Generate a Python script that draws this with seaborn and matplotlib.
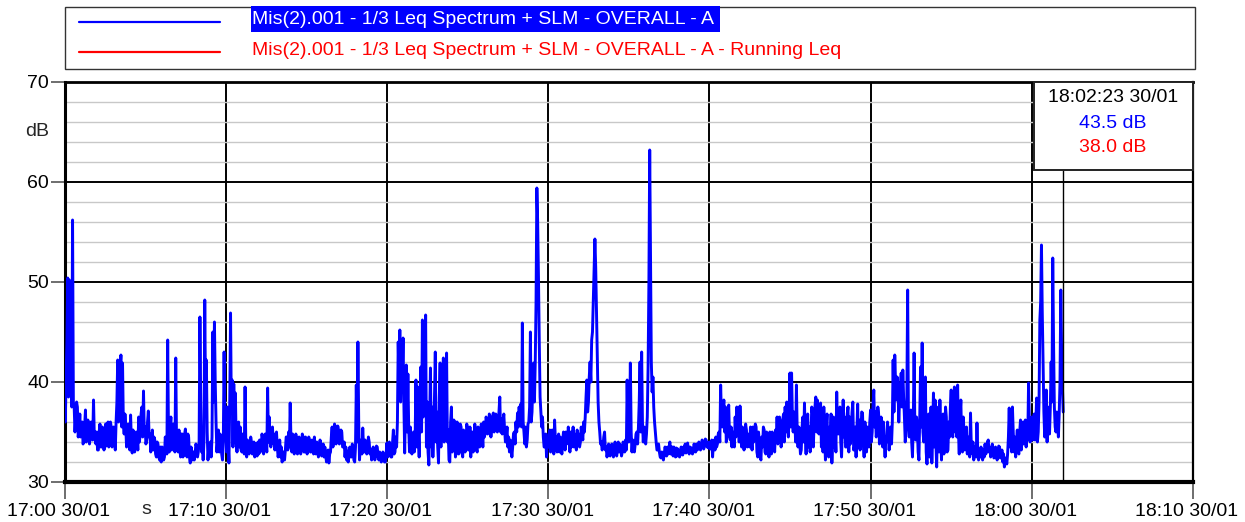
import numpy as np
import pandas as pd
import matplotlib
matplotlib.use("Agg")
import matplotlib.pyplot as plt
from matplotlib.patches import Rectangle
from matplotlib.lines import Line2D
from matplotlib.transforms import ScaledTranslation
import seaborn as sns

# ---------------- data ----------------
# Readings every 3 s from 17:00; listed as two interleaved columns:
# level_a at whole tenths of a minute, level_b half-way between them.
sample_step_min = 0.05
level_a = [
    37.5, 40.5, 50.4, 50.2, 40.0, 56.2, 37.5, 36.5, 37.5, 35.2,   # 17:00
    34.5, 36.0, 34.0, 37.2, 34.2, 35.5, 34.5, 35.8, 38.2, 35.0,
    35.0, 33.2, 35.8, 33.5, 35.0, 34.0, 33.6, 36.0, 34.3, 35.5,
    33.8, 34.5, 36.0, 42.2, 39.5, 42.7, 41.9, 34.8, 35.5, 34.0,
    34.8, 36.7, 32.9, 34.5, 33.5, 34.5, 36.5, 35.0, 37.5, 39.1,
    35.5, 34.2, 37.1, 34.8, 34.0, 33.2, 34.2, 32.5, 33.8, 32.2,
    32.0, 33.0, 32.5, 34.0, 44.2, 33.0, 36.5, 34.0, 33.5, 42.4,
    35.0, 35.2, 32.5, 34.8, 33.0, 35.3, 32.5, 34.5, 31.9, 33.0,
    33.0, 32.8, 33.5, 33.0, 46.5, 33.0, 32.2, 48.2, 42.2, 32.2,
    33.0, 32.5, 45.0, 46.0, 36.0, 34.0, 33.0, 34.5, 32.2, 43.0,
    36.0, 37.5, 31.9, 46.9, 40.2, 39.8, 38.9, 33.0, 36.0, 35.5,   # 17:10
    33.0, 34.0, 39.5, 32.5, 33.5, 33.3, 34.0, 33.5, 32.5, 33.5,
    34.0, 34.2, 33.5, 34.3, 33.5, 34.0, 39.4, 36.5, 33.5, 35.5,
    34.8, 34.0, 33.5, 33.0, 32.5, 32.0, 33.0, 33.2, 34.5, 35.0,
    37.9, 33.0, 34.0, 33.5, 34.2, 33.0, 34.0, 33.5, 34.5, 33.0,
    34.0, 33.5, 34.2, 33.0, 33.8, 34.5, 32.8, 33.5, 33.2, 33.8,
    33.0, 32.5, 32.7, 32.2, 31.9, 33.0, 35.5, 34.2, 35.5, 34.8,
    35.2, 34.0, 35.0, 33.5, 32.5, 32.2, 32.0, 33.5, 32.5, 33.5,
    32.0, 39.7, 44.0, 32.2, 34.2, 35.4, 33.0, 33.5, 33.2, 34.0,
    33.3, 32.5, 33.0, 32.8, 33.5, 32.2, 32.5, 32.2, 32.5, 32.0,
    33.9, 32.8, 33.5, 32.5, 35.2, 33.0, 33.5, 44.0, 45.2, 41.5,   # 17:20
    44.4, 32.9, 41.7, 40.8, 33.0, 34.0, 33.8, 33.0, 40.2, 39.5,
    32.5, 41.5, 46.2, 42.0, 46.7, 38.0, 31.7, 41.4, 37.5, 35.0,
    43.0, 37.0, 31.9, 41.9, 40.8, 42.4, 38.8, 42.9, 35.2, 32.0,
    37.5, 33.8, 36.0, 33.0, 35.8, 33.2, 35.5, 32.5, 34.8, 33.5,
    35.4, 33.2, 32.5, 35.0, 33.5, 34.8, 33.0, 35.4, 33.8, 35.0,
    36.0, 35.0, 36.2, 35.3, 36.5, 35.6, 36.9, 35.4, 36.2, 36.0,
    38.5, 36.3, 36.0, 35.2, 34.5, 33.5, 33.0, 33.5, 33.5, 35.0,
    36.0, 36.9, 37.5, 37.8, 45.9, 35.0, 35.5, 34.2, 36.0, 45.0,
    37.0, 41.9, 42.0, 59.4, 50.5, 38.5, 35.5, 34.5, 33.5, 32.5,
    33.5, 35.2, 33.5, 34.0, 36.2, 34.5, 33.5, 33.0, 33.8, 34.0,   # 17:30
    34.5, 35.0, 34.0, 34.2, 35.0, 34.5, 33.5, 34.0, 35.2, 34.8,
    34.0, 35.0, 36.0, 36.5, 40.2, 38.0, 42.0, 44.2, 48.0, 54.3,
    47.0, 38.0, 35.0, 34.0, 33.5, 35.0, 33.5, 33.0, 33.5, 33.0,
    33.5, 33.2, 33.5, 33.2, 33.0, 33.5, 33.0, 33.8, 34.2, 40.2,
    34.0, 41.9, 33.0, 34.0, 33.8, 35.0, 35.5, 42.0, 43.0, 34.0,
    34.8, 34.8, 41.5, 63.2, 42.0, 40.5, 36.0, 34.0, 33.2, 33.0,
    32.4, 32.8, 32.8, 33.2, 33.5, 33.3, 32.8, 33.5, 33.5, 32.5,
    32.6, 33.0, 32.8, 33.2, 33.5, 33.8, 33.3, 33.2, 33.5, 33.4,
    33.0, 33.5, 33.8, 33.3, 33.8, 33.6, 34.0, 33.8, 34.2, 33.9,
    34.0, 33.6, 32.5, 34.2, 34.5, 33.8, 35.0, 39.7, 35.5, 38.2,   # 17:40
    37.5, 35.0, 37.7, 34.2, 33.5, 34.8, 36.5, 37.5, 36.8, 37.6,
    33.5, 35.0, 34.2, 35.2, 34.8, 33.5, 34.5, 35.5, 34.8, 35.5,
    32.5, 34.0, 32.2, 33.5, 35.2, 32.8, 34.5, 32.5, 34.8, 35.0,
    34.5, 35.2, 36.5, 34.8, 35.8, 34.2, 36.8, 37.5, 38.0, 34.5,
    40.9, 40.9, 35.0, 36.2, 39.7, 33.5, 34.2, 33.2, 36.5, 37.9,
    32.8, 36.8, 35.5, 34.2, 36.8, 36.0, 38.5, 38.2, 34.8, 37.9,
    36.2, 37.5, 32.2, 36.8, 32.5, 34.2, 31.9, 36.5, 35.2, 39.0,
    34.8, 37.5, 32.5, 38.2, 36.5, 33.5, 37.5, 36.5, 35.2, 38.0,
    33.5, 32.5, 37.8, 36.2, 34.8, 36.9, 32.5, 34.8, 35.5, 33.5,
    37.2, 35.0, 39.2, 37.0, 35.2, 36.8, 34.5, 35.5, 36.0, 32.5,   # 17:50
    34.0, 35.0, 34.5, 33.8, 42.2, 42.7, 38.2, 39.5, 38.2, 40.9,
    41.2, 36.5, 35.2, 49.2, 34.5, 37.2, 32.5, 42.9, 34.2, 35.5,
    32.2, 41.5, 43.9, 34.0, 40.5, 31.8, 36.8, 34.8, 31.9, 38.9,
    38.2, 31.5, 37.5, 38.2, 32.2, 36.8, 34.2, 36.5, 33.2, 34.5,
    39.2, 34.5, 39.5, 39.2, 39.7, 32.8, 38.2, 33.0, 34.8, 33.5,
    32.8, 33.5, 36.9, 32.8, 32.2, 33.5, 35.9, 32.2, 32.5, 32.8,
    33.2, 33.8, 33.2, 34.2, 33.5, 32.8, 33.2, 32.5, 33.0, 32.8,
    33.5, 32.6, 32.0, 31.5, 32.2, 32.8, 37.4, 34.8, 37.5, 33.0,
    32.5, 35.2, 32.8, 36.2, 34.5, 33.8, 36.2, 35.0, 39.9, 34.0,
    36.5, 35.0, 34.2, 38.4, 35.0, 46.2, 53.7, 42.0, 34.5, 39.2,   # 18:00
    37.5, 34.8, 42.0, 52.4, 37.5, 35.0, 35.8, 36.8, 49.2, 39.5,
]
level_b = [
    36.0, 44.0, 38.5, 46.0, 37.5, 38.0, 35.0, 38.0, 34.5, 36.8,   # 17:00
    35.8, 33.8, 35.5, 34.0, 36.2, 33.8, 36.0, 34.2, 34.5, 33.8,
    33.2, 35.0, 33.5, 35.5, 33.2, 35.8, 35.2, 33.5, 36.0, 33.5,
    35.5, 33.2, 38.0, 36.0, 41.0, 35.5, 36.0, 36.8, 33.5, 35.8,
    33.2, 34.0, 35.2, 33.0, 35.0, 33.2, 34.0, 36.8, 34.5, 35.0,
    33.8, 36.0, 34.5, 33.0, 35.2, 34.5, 32.8, 34.0, 32.5, 33.5,
    33.5, 32.2, 34.5, 32.8, 35.0, 35.5, 33.2, 35.8, 33.0, 34.0,
    33.0, 33.5, 34.8, 32.5, 34.8, 33.0, 34.8, 32.5, 33.5, 32.2,
    32.2, 33.8, 32.5, 34.0, 38.0, 33.8, 34.0, 38.0, 35.0, 33.5,
    34.0, 34.5, 38.0, 40.0, 33.0, 35.2, 34.8, 32.8, 34.0, 34.5,
    33.0, 34.0, 38.0, 37.0, 33.5, 35.5, 34.0, 34.8, 33.5, 33.2,   # 17:10
    34.8, 32.8, 33.5, 34.2, 32.8, 34.5, 32.8, 34.0, 33.8, 32.6,
    32.8, 33.0, 34.8, 32.8, 34.8, 33.0, 34.0, 34.0, 35.0, 33.8,
    33.2, 35.0, 32.5, 34.2, 33.5, 33.0, 32.2, 34.5, 33.2, 33.5,
    34.0, 34.8, 32.8, 34.8, 32.8, 34.5, 32.8, 34.8, 33.0, 34.5,
    32.8, 34.5, 33.0, 34.2, 32.8, 33.2, 34.0, 32.5, 34.2, 32.6,
    33.8, 33.5, 32.0, 33.2, 32.8, 34.5, 33.5, 35.8, 33.8, 35.6,
    33.8, 35.2, 33.5, 34.0, 33.5, 33.0, 33.2, 32.5, 33.8, 32.2,
    33.5, 34.0, 36.0, 33.8, 32.8, 33.5, 34.2, 32.8, 34.5, 32.8,
    32.2, 33.5, 32.2, 33.6, 32.5, 33.0, 32.0, 33.0, 32.0, 32.8,
    32.5, 34.0, 32.5, 34.0, 32.8, 34.5, 36.0, 40.0, 38.0, 40.5,   # 17:20
    38.0, 37.5, 35.0, 35.5, 35.5, 32.8, 35.0, 34.5, 33.5, 35.0,
    38.5, 35.0, 36.5, 38.0, 33.5, 33.0, 36.0, 33.5, 32.5, 38.5,
    34.0, 33.5, 38.5, 33.5, 35.0, 34.0, 34.5, 34.0, 32.2, 36.0,
    33.0, 36.2, 32.5, 36.0, 32.8, 35.8, 33.0, 35.2, 33.0, 35.8,
    33.2, 35.5, 34.5, 33.0, 35.8, 33.2, 35.5, 33.5, 35.8, 33.5,
    34.5, 36.5, 34.8, 36.8, 34.5, 36.5, 35.0, 36.8, 35.0, 37.0,
    35.0, 34.8, 36.8, 34.0, 35.5, 34.5, 34.2, 32.5, 34.8, 33.8,
    35.0, 35.5, 36.0, 35.5, 36.0, 33.8, 33.5, 35.8, 37.5, 36.0,
    40.0, 38.0, 48.0, 56.0, 44.0, 37.0, 36.5, 33.5, 34.8, 34.0,
    34.8, 33.0, 35.2, 32.8, 34.2, 33.0, 34.8, 34.5, 32.8, 35.0,   # 17:30
    33.2, 33.8, 35.5, 33.0, 33.5, 35.5, 34.8, 33.2, 33.8, 33.5,
    35.5, 34.2, 35.0, 38.5, 37.0, 40.5, 40.0, 45.0, 51.0, 51.5,
    42.0, 36.0, 33.8, 33.2, 34.5, 33.2, 32.5, 33.8, 32.6, 33.8,
    32.5, 34.0, 32.6, 34.0, 33.8, 32.6, 34.0, 33.0, 33.2, 35.0,
    36.0, 35.0, 34.2, 33.0, 34.8, 33.8, 38.0, 35.0, 36.0, 35.5,
    33.8, 36.5, 50.0, 52.0, 39.0, 37.5, 35.0, 33.2, 33.8, 32.5,
    33.0, 32.2, 33.5, 32.6, 32.8, 34.0, 33.5, 32.6, 32.8, 33.4,
    33.3, 32.5, 33.5, 32.7, 33.0, 32.9, 33.9, 32.8, 33.0, 32.8,
    33.8, 33.0, 33.2, 34.0, 33.2, 34.2, 33.3, 34.3, 33.5, 33.4,
    33.3, 34.2, 33.8, 33.2, 33.5, 34.8, 34.0, 36.5, 37.0, 35.0,   # 17:40
    34.0, 36.5, 34.5, 35.5, 35.0, 33.5, 34.5, 35.0, 34.0, 35.0,
    35.5, 33.2, 35.8, 33.5, 33.8, 35.5, 33.2, 34.0, 35.8, 33.0,
    35.0, 32.5, 34.5, 35.5, 33.0, 35.0, 33.0, 35.0, 32.8, 33.5,
    33.0, 34.0, 33.8, 36.5, 33.5, 36.2, 34.0, 35.0, 35.5, 37.0,
    35.5, 36.5, 37.0, 34.0, 35.0, 35.5, 32.8, 35.5, 34.0, 34.5,
    35.0, 33.5, 33.0, 37.5, 33.5, 37.5, 35.0, 35.0, 36.5, 33.5,
    33.0, 34.5, 35.5, 33.0, 35.5, 36.8, 34.5, 33.5, 33.0, 35.0,
    36.5, 34.0, 35.5, 34.5, 33.5, 36.8, 33.0, 33.8, 37.0, 33.2,
    35.5, 35.0, 33.5, 33.2, 37.0, 34.0, 36.0, 33.0, 33.8, 36.0,
    34.0, 37.5, 35.5, 34.5, 37.5, 33.8, 36.5, 33.5, 34.0, 34.5,   # 17:50
    36.0, 33.2, 35.5, 36.0, 37.0, 40.0, 40.5, 36.0, 39.5, 37.5,
    38.5, 34.0, 38.5, 36.0, 36.8, 34.0, 36.0, 35.0, 36.5, 33.0,
    36.5, 35.5, 35.0, 38.5, 33.0, 35.0, 32.5, 37.5, 35.0, 33.5,
    34.0, 35.5, 33.0, 34.5, 36.0, 32.8, 37.5, 33.0, 36.0, 37.5,
    35.0, 37.8, 35.0, 34.5, 35.0, 36.5, 34.0, 36.5, 33.2, 35.5,
    34.5, 32.5, 33.5, 34.0, 33.5, 32.5, 33.0, 33.2, 33.5, 32.2,
    32.5, 32.8, 34.0, 33.0, 32.5, 33.8, 32.4, 33.5, 32.2, 33.6,
    32.4, 33.2, 32.8, 32.4, 31.8, 34.5, 33.5, 33.0, 35.0, 34.5,
    34.0, 33.0, 35.0, 33.2, 36.0, 35.5, 33.5, 34.2, 36.0, 35.5,
    34.2, 36.8, 36.0, 34.0, 38.0, 48.0, 47.0, 37.0, 35.5, 34.0,   # 18:00
    35.0, 37.5, 38.0, 44.0, 35.5, 37.0, 34.5, 40.0, 43.0, 37.0,
]
level_db = np.column_stack([level_a, level_b]).ravel()
minutes = np.arange(len(level_db)) * sample_step_min

x_tick_minutes = [0, 10, 20, 30, 40, 50, 60, 70]
x_tick_labels = ["17:00 30/01", "17:10 30/01", "17:20 30/01", "17:30 30/01",
                 "17:40 30/01", "17:50 30/01", "18:00 30/01", "18:10 30/01"]
y_ticks = [30, 40, 50, 60, 70]

series_name = "Mis(2).001 - 1/3 Leq Spectrum + SLM - OVERALL - A"
running_name = "Mis(2).001 - 1/3 Leq Spectrum + SLM - OVERALL - A - Running Leq"
cursor_time_label = "18:02:23 30/01"
cursor_minute = 61.94
cursor_leq = "43.5 dB"
cursor_running = "38.0 dB"

BLUE = "#0000ff"
RED = "#ff0000"

# ---------------- style ----------------
sns.set_style("white")
plt.rcParams["font.family"] = ["Liberation Sans", "DejaVu Sans"]

W, H = 1245, 522
fig = plt.figure(figsize=(W / 100, H / 100), dpi=100)


def fx(px):
    return px / W


def fy(py):
    return 1 - py / H


ax = fig.add_axes([fx(64.5), fy(482), (1193 - 64.5) / W, 400 / H])

df = pd.DataFrame({"minute": minutes, "dB": level_db})
sns.lineplot(data=df, x="minute", y="dB", color=BLUE, linewidth=2.1,
             estimator=None, ax=ax, zorder=3)

ax.set_xlim(0, 70)
ax.set_ylim(30, 70)
ax.set_xlabel("")
ax.set_ylabel("")

ax.set_xticks(x_tick_minutes)
ax.set_xticklabels(x_tick_labels)
ax.set_yticks(y_ticks)
ax.set_yticklabels([str(v) for v in y_ticks])
ax.set_yticks(np.arange(30, 71, 2), minor=True)

ax.tick_params(axis="both", which="major", direction="out",
               width=1.2, color="#555555", labelsize=14, labelcolor="black",
               left=True, bottom=True)
ax.tick_params(axis="x", which="major", length=12, pad=3)
ax.tick_params(axis="y", which="major", length=10, pad=1)
ax.tick_params(axis="y", which="minor", length=0, left=False)

for lab in ax.get_xticklabels():
    lab.set_transform(lab.get_transform() + ScaledTranslation(-6 / 100, 0, fig.dpi_scale_trans))

ax.grid(which="minor", axis="y", color="#c8c8c8", linewidth=1.0, zorder=0)
ax.grid(which="major", axis="both", color="black", linewidth=1.4, zorder=1)
ax.set_axisbelow(True)

for side, lw in [("left", 2.2), ("bottom", 3.0), ("top", 2.0), ("right", 1.6)]:
    ax.spines[side].set_visible(True)
    ax.spines[side].set_color("black")
    ax.spines[side].set_linewidth(lw)

# cursor line below the readout box
ax.vlines(cursor_minute, 30, 61.2, color="black", linewidth=1.0, zorder=4)

# axis unit labels
fig.text(fx(146), fy(509), "s", ha="center", va="center", fontsize=14)
fig.text(fx(37), fy(131), "dB", ha="center", va="center", fontsize=14)

# ---------------- legend box ----------------
fig.patches.append(Rectangle((fx(64.5), fy(69)), (1195 - 64.5) / W, 62 / H,
                             transform=fig.transFigure, facecolor="white",
                             edgecolor="#333333", linewidth=1.0))
fig.lines.append(Line2D([fx(79), fx(220)], [fy(22), fy(22)], color=BLUE,
                        linewidth=1.6, transform=fig.transFigure))
fig.lines.append(Line2D([fx(79), fx(220)], [fy(52), fy(52)], color=RED,
                        linewidth=1.6, transform=fig.transFigure))
fig.patches.append(Rectangle((fx(251), fy(32)), (720 - 251) / W, 26 / H,
                             transform=fig.transFigure, facecolor=BLUE,
                             edgecolor="none", zorder=2))
fig.text(fx(252), fy(19.5), series_name, color="white", ha="left", va="center",
         fontsize=14, zorder=4)
fig.text(fx(252), fy(50.5), running_name, color=RED, ha="left", va="center",
         fontsize=14, zorder=4)

# ---------------- cursor readout box ----------------
fig.patches.append(Rectangle((fx(1034), fy(170)), (1193 - 1034) / W, 88 / H,
                             transform=fig.transFigure, facecolor="white",
                             edgecolor="#222222", linewidth=1.4, zorder=5))
fig.text(fx(1113), fy(98), cursor_time_label, ha="center", va="center",
         fontsize=14, color="black", zorder=6)
fig.text(fx(1113), fy(123), cursor_leq, ha="center", va="center",
         fontsize=14, color=BLUE, zorder=6)
fig.text(fx(1113), fy(148), cursor_running, ha="center", va="center",
         fontsize=14, color=RED, zorder=6)

fig.savefig("out.png", dpi=100)
